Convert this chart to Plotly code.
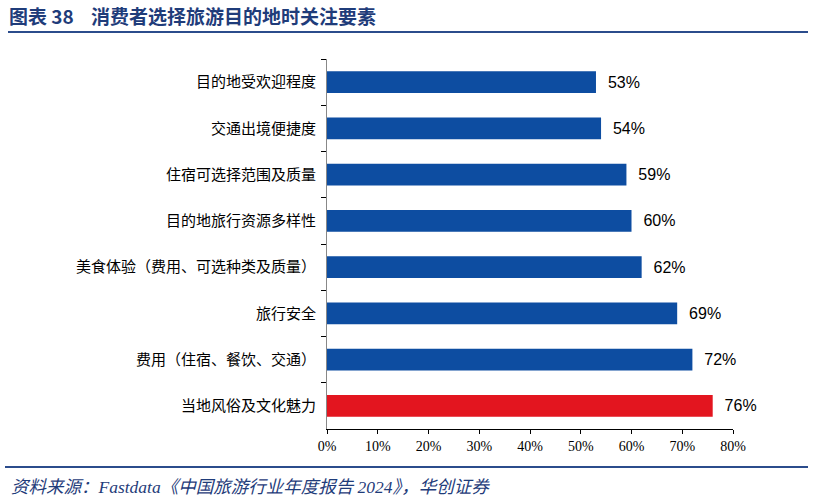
import plotly.graph_objects as go

# 数据（从上到下）
categories = [
    '目的地受欢迎程度',
    '交通出境便捷度',
    '住宿可选择范围及质量',
    '目的地旅行资源多样性',
    '美食体验（费用、可选种类及质量）',
    '旅行安全',
    '费用（住宿、餐饮、交通）',
    '当地风俗及文化魅力',
]
values = [53, 54, 59, 60, 62, 69, 72, 76]
labels = ['53%', '54%', '59%', '60%', '62%', '69%', '72%', '76%']
tick_vals = [0, 10, 20, 30, 40, 50, 60, 70, 80]
tick_text = ['0%', '10%', '20%', '30%', '40%', '50%', '60%', '70%', '80%']

title_text = '图表 38\u00a0\u00a0\u00a0\u00a0消费者选择旅游目的地时关注要素'
source_text = '资料来源：Fastdata《中国旅游行业年度报告 2024》，华创证券'

BLUE = '#0D4DA1'
RED = '#E3151F'
DARK = '#1F3C7A'

colors = [RED if c == '当地风俗及文化魅力' else BLUE for c in categories]

# 去掉 body 的默认边距，画布直接铺满窗口
W, H = 814, 502
L, R, T, B = 327, 81, 59, 73
pw, ph = W - L - R, H - T - B


def px_x(x):
    return (x - L) / pw


def px_y(y):
    return (H - B - y) / ph


fig = go.Figure(
    go.Bar(
        x=values,
        y=categories,
        orientation='h',
        marker=dict(color=colors, line=dict(width=0)),
        width=0.47,
        text=['  ' + s for s in labels],
        textposition='outside',
        textfont=dict(family='Liberation Sans, Arial', size=16, color='black'),
        cliponaxis=False,
        hoverinfo='skip',
    )
)

fig.update_layout(
    width=W,
    height=H,
    margin=dict(l=L, r=R, t=T, b=B),
    plot_bgcolor='white',
    paper_bgcolor='white',
    showlegend=False,
    title=dict(
        text='<b>' + title_text + '</b>',
        xref='container', yref='container',
        x=9 / W, y=1 - 17 / H,
        xanchor='left', yanchor='middle',
        font=dict(family='Noto Sans CJK SC', size=19, color=DARK),
    ),
    xaxis=dict(
        range=[0, 80],
        tickvals=tick_vals,
        ticktext=tick_text,
        ticks='outside',
        ticklen=4,
        tickcolor='black',
        showline=True,
        linecolor='black',
        linewidth=1,
        showgrid=False,
        zeroline=False,
        tickfont=dict(family='Liberation Serif, Times New Roman', size=14, color='black'),
    ),
    yaxis=dict(
        autorange='reversed',
        ticks='outside',
        tickson='boundaries',
        ticklen=5,
        tickcolor='black',
        showline=True,
        linecolor='#888888',
        linewidth=1,
        showgrid=False,
        ticklabelstandoff=7,
        automargin=False,
        tickfont=dict(family='Noto Sans CJK SC', size=15, color='black'),
    ),
    shapes=[
        dict(type='line', xref='paper', yref='paper',
             x0=px_x(8), x1=px_x(808), y0=px_y(32), y1=px_y(32),
             line=dict(color='#2B4C8C', width=2)),
        dict(type='line', xref='paper', yref='paper',
             x0=px_x(5), x1=px_x(808), y0=px_y(467), y1=px_y(467),
             line=dict(color='#2B4C8C', width=2)),
    ],
    annotations=[
        dict(text='<i>' + source_text + '</i>', xref='paper', yref='paper',
             x=px_x(9), y=px_y(487), xanchor='left', yanchor='middle',
             showarrow=False,
             font=dict(family='Liberation Serif, Noto Sans CJK SC', size=17.5, color=DARK)),
    ],
)

fig.write_html(
    'out.html',
    config={'displayModeBar': False},
    post_script="document.body.style.margin='0';",
)
